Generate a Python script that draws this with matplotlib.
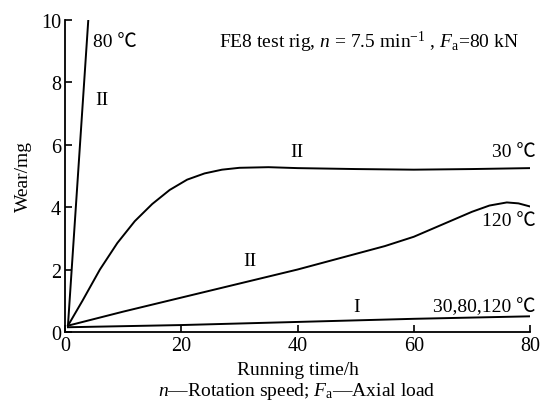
import matplotlib
matplotlib.use('Agg')
import matplotlib.pyplot as plt

plt.rcParams['font.family'] = ['Liberation Serif', 'Noto Sans CJK SC']
plt.rcParams['mathtext.fontset'] = 'custom'
plt.rcParams['mathtext.rm'] = 'Liberation Serif'
plt.rcParams['mathtext.it'] = 'Liberation Serif:italic'

# curve II at 80 C
t80 = [0.5, 4.0]
w80 = [0.2, 10.0]

# curve II at 30 C
t30 = [0.5, 3, 6, 9, 12, 15, 18, 21, 24, 27, 30, 35, 40, 50, 60, 70, 80]
w30 = [0.2, 1.0, 2.0, 2.85, 3.55, 4.1, 4.55, 4.88, 5.08, 5.2, 5.26, 5.28, 5.25, 5.22, 5.2, 5.22, 5.25]

# curve II at 120 C
t120 = [0.5, 10, 20, 30, 40, 50, 55, 60, 65, 70, 73, 76, 78, 80]
w120 = [0.2, 0.65, 1.1, 1.55, 2.0, 2.5, 2.75, 3.05, 3.45, 3.85, 4.05, 4.15, 4.12, 4.02]

# curve I, all temperatures
tI = [0.5, 20, 40, 60, 80]
wI = [0.15, 0.22, 0.32, 0.42, 0.5]

fig = plt.figure(figsize=(5.42, 4.10), dpi=100)
ax = fig.add_axes([0.12, 0.188, 0.858, 0.761])

for t, w in [(t80, w80), (t30, w30), (t120, w120), (tI, wI)]:
    ax.plot(t, w, color='black', lw=1.4)

ax.set_xlim(0, 80)
ax.set_ylim(0, 10)
ax.set_xticks([0, 20, 40, 60, 80])
ax.set_yticks([0, 2, 4, 6, 8, 10])
ax.spines['top'].set_visible(False)
ax.spines['right'].set_visible(False)
ax.spines['left'].set_linewidth(1.3)
ax.spines['bottom'].set_linewidth(1.3)
ax.tick_params(direction='in', length=5, width=1.2, labelsize=14.5, pad=3)

fs = 14
ax.text(4.8, 9.3, '80 ℃', fontsize=fs, va='center')
ax.text(5.2, 7.45, 'II', fontsize=fs, va='center')
ax.text(78, 9.3, r'FE8 test rig, $\it{n}$ = 7.5 min$^{-1}$ , $\it{F}_{\rm a}$=80 kN',
        fontsize=fs, ha='right', va='center')
ax.text(39.8, 5.77, 'II', fontsize=fs, ha='center', va='center')
ax.text(81, 5.77, '30 ℃', fontsize=fs, ha='right', va='center')
ax.text(81, 3.56, '120 ℃', fontsize=fs, ha='right', va='center')
ax.text(31.8, 2.28, 'II', fontsize=fs, ha='center', va='center')
ax.text(50.1, 0.8, 'I', fontsize=fs, ha='center', va='center')
ax.text(81, 0.83, '30,80,120 ℃', fontsize=fs, ha='right', va='center')

ax.set_xlabel('Running time/h', fontsize=fs, labelpad=4)
ax.set_ylabel('Wear/mg', fontsize=fs, labelpad=6)
fig.text(0.548, 0.045, r'$\it{n}$—Rotation speed; $\it{F}_{\rm a}$—Axial load',
         fontsize=fs, ha='center', va='center')

fig.savefig('out.png', dpi=100)
